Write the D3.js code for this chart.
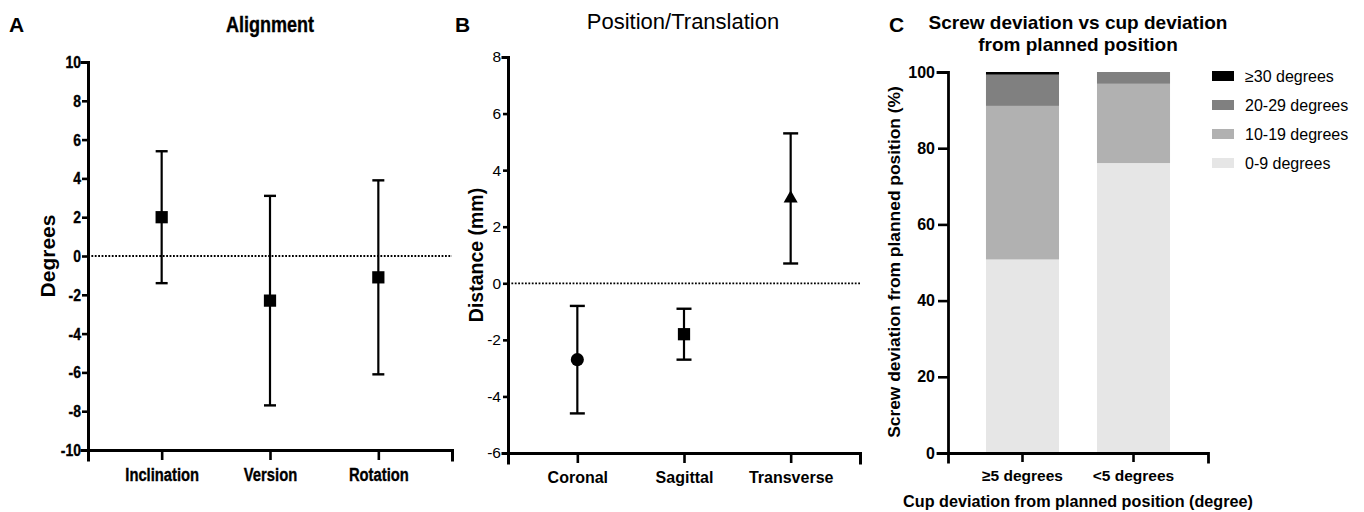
<!DOCTYPE html>
<html>
<head>
<meta charset="utf-8">
<script src="https://cdn.jsdelivr.net/npm/d3@7"></script>
<style>
	body { margin: 0; background: #fff; }
	svg { display: block; }
	.narrow { font-family: "Liberation Sans", Arial, sans-serif; font-weight: bold; stroke: #000; stroke-width: 0.35px; }
	.bold { font-family: "Liberation Sans", Arial, sans-serif; font-weight: bold; }
	.reg { font-family: "Liberation Sans", Arial, sans-serif; font-weight: normal; }
</style>
</head>
<body>
<svg id="chart" width="1364" height="512"></svg>
<script>
// panel A - alignment (mean and range, degrees)
const alignCats = ["Inclination", "Version", "Rotation"];
const alignMean = [2.0, -2.3, -1.1];
const alignLow = [-1.4, -7.7, -6.1];
const alignHigh = [5.4, 3.1, 3.9];
const alignTicks = [-10, -8, -6, -4, -2, 0, 2, 4, 6, 8, 10];

// panel B - position/translation (mm)
const posCats = ["Coronal", "Sagittal", "Transverse"];
const posMean = [-2.7, -1.8, 3.0];
const posLow = [-4.6, -2.7, 0.7];
const posHigh = [-0.8, -0.9, 5.3];
const posShapes = ["circle", "square", "triangle"];
const posTicks = [-6, -4, -2, 0, 2, 4, 6, 8];

// panel C - stacked percentages
const cupCats = ["≥5 degrees", "<5 degrees"];
const screwKeys = ["0-9 degrees", "10-19 degrees", "20-29 degrees", "≥30 degrees"];
const screw0to9 = [50.8, 76.1];
const screw10to19 = [40.3, 20.8];
const screw20to29 = [8.2, 3.1];
const screw30plus = [0.7, 0];
const screwColors = ["#e6e6e6", "#b1b1b1", "#808080", "#000000"];
const pctTicks = [0, 20, 40, 60, 80, 100];

const svg = d3.select('#chart');

const symbolType = {
	square: d3.symbolSquare,
	circle: d3.symbolCircle,
	triangle: d3.symbolTriangle
};

const drawErrorPanel = (o) => {
	const g = svg.append('g');
	const x = d3.scalePoint().domain(o.cats).range([o.left, o.right]).padding(o.pad);
	const y = d3.scaleLinear().domain(o.yDomain).range([o.bottom, o.top]);

	// dotted zero line
	g.append('line')
		.attr('x1', o.left).attr('x2', o.right)
		.attr('y1', y(0)).attr('y2', y(0))
		.attr('stroke', '#000').attr('stroke-width', 1.8)
		.attr('stroke-dasharray', '1.8,1.6');

	const yAxis = g.append('g')
		.attr('transform', `translate(${o.left},0)`)
		.call(d3.axisLeft(y).tickValues(o.ticks).tickFormat(d => String(d))
			.tickSizeOuter(0).tickSize(o.yTick).tickPadding(o.yPad));
	const xAxis = g.append('g')
		.attr('transform', `translate(0,${o.bottom})`)
		.call(d3.axisBottom(x).tickSizeOuter(0).tickSize(o.xTick).tickPadding(o.xPad));

	[yAxis, xAxis].forEach(a => {
		a.attr('font-size', null).attr('font-family', null);
		a.select('.domain').attr('stroke-width', 3).attr('stroke-linecap', 'square');
		a.selectAll('.tick line').attr('stroke-width', 2.6);
	});
	yAxis.selectAll('text').attr('class', o.yTickClass).style('font-size', o.yTickSize + 'px').attr('fill', '#000');
	xAxis.selectAll('text').attr('class', o.xTickClass).style('font-size', o.xTickSize + 'px').attr('fill', '#000');

	const pts = o.cats.map((c, i) => ({ c, m: o.mean[i], lo: o.low[i], hi: o.high[i], s: o.shapes[i] }));
	const bars = g.selectAll('.err').data(pts).join('g').attr('class', 'err');
	bars.append('line')
		.attr('x1', d => x(d.c)).attr('x2', d => x(d.c))
		.attr('y1', d => y(d.lo)).attr('y2', d => y(d.hi))
		.attr('stroke', '#000').attr('stroke-width', 2.2);
	['lo', 'hi'].forEach(k => {
		bars.append('line')
			.attr('x1', d => x(d.c) - o.capW / 2).attr('x2', d => x(d.c) + o.capW / 2)
			.attr('y1', d => y(d[k])).attr('y2', d => y(d[k]))
			.attr('stroke', '#000').attr('stroke-width', 2.4);
	});
	bars.append('path')
		.attr('transform', d => `translate(${x(d.c)},${y(d.m)})`)
		.attr('d', d => d3.symbol().type(symbolType[d.s]).size(o.symSize[d.s])())
		.attr('fill', '#000');
	return g;
};

// ---- A
drawErrorPanel({
	cats: alignCats, mean: alignMean, low: alignLow, high: alignHigh,
	shapes: ["square", "square", "square"],
	ticks: alignTicks, yDomain: [-10, 10],
	left: 88, right: 452, top: 62, bottom: 450, pad: 0.68,
	yTick: 6, yPad: 1, xTick: 10, xPad: 8,
	yTickClass: 'narrow', yTickSize: 17, xTickClass: 'narrow', xTickSize: 18,
	capW: 12, symSize: { square: 150 }
});
svg.append('text').attr('class', 'bold').attr('x', 9).attr('y', 32).style('font-size', '21px').text('A');
svg.append('text').attr('class', 'narrow').attr('x', 270).attr('y', 32)
	.attr('text-anchor', 'middle').style('font-size', '22px').text('Alignment');
svg.append('text').attr('class', 'bold').attr('transform', 'translate(55,256) rotate(-90)')
	.attr('text-anchor', 'middle').style('font-size', '21px').text('Degrees');

// ---- B
drawErrorPanel({
	cats: posCats, mean: posMean, low: posLow, high: posHigh, shapes: posShapes,
	ticks: posTicks, yDomain: [-6, 8],
	left: 508, right: 860, top: 57, bottom: 453, pad: 0.65,
	yTick: 5, yPad: 2, xTick: 10, xPad: 9,
	yTickClass: 'reg', yTickSize: 15.5, xTickClass: 'bold', xTickSize: 16,
	capW: 15, symSize: { circle: 135, square: 150, triangle: 85 }
});
svg.append('text').attr('class', 'bold').attr('x', 455).attr('y', 32).style('font-size', '21px').text('B');
svg.append('text').attr('class', 'reg').attr('x', 683).attr('y', 29)
	.attr('text-anchor', 'middle').style('font-size', '22px').text('Position/Translation');
svg.append('text').attr('class', 'bold').attr('transform', 'translate(483,255) rotate(-90)')
	.attr('text-anchor', 'middle').style('font-size', '19.5px').text('Distance (mm)');

// ---- C
const cg = svg.append('g');
const cx = d3.scaleBand().domain(cupCats).range([948, 1208]).paddingInner(0.342).paddingOuter(0.342);
const cy = d3.scaleLinear().domain([0, 100]).range([453, 72]);

const rows = cupCats.map((c, i) => ({
	cat: c,
	[screwKeys[0]]: screw0to9[i],
	[screwKeys[1]]: screw10to19[i],
	[screwKeys[2]]: screw20to29[i],
	[screwKeys[3]]: screw30plus[i]
}));
const series = d3.stack().keys(screwKeys)(rows);
const color = d3.scaleOrdinal().domain(screwKeys).range(screwColors);

cg.selectAll('.layer').data(series).join('g')
	.attr('class', 'layer')
	.attr('fill', d => color(d.key))
	.selectAll('rect').data(d => d).join('rect')
	.attr('x', d => cx(d.data.cat))
	.attr('width', cx.bandwidth())
	.attr('y', d => cy(d[1]))
	.attr('height', d => cy(d[0]) - cy(d[1]));

const cyAxis = cg.append('g').attr('transform', 'translate(948,0)')
	.call(d3.axisLeft(cy).tickValues(pctTicks).tickSizeOuter(0).tickSize(10).tickPadding(3));
const cxAxis = cg.append('g').attr('transform', 'translate(0,453)')
	.call(d3.axisBottom(cx).tickSizeOuter(0).tickSize(9).tickPadding(8));
[cyAxis, cxAxis].forEach(a => {
	a.attr('font-size', null).attr('font-family', null);
	a.select('.domain').attr('stroke-width', 2.8).attr('stroke-linecap', 'square');
	a.selectAll('.tick line').attr('stroke-width', 2.6);
});
cyAxis.selectAll('text').attr('class', 'bold').style('font-size', '16px').attr('fill', '#000');
cxAxis.selectAll('text').attr('class', 'bold').style('font-size', '15.5px').attr('fill', '#000');

// legend, top entry first
const legendKeys = screwKeys.slice().reverse();
const ly = d3.scalePoint().domain(legendKeys).range([76, 163]);
const leg = cg.selectAll('.leg').data(legendKeys).join('g').attr('class', 'leg')
	.attr('transform', d => `translate(1212,${ly(d)})`);
leg.append('rect').attr('x', 0).attr('y', -5).attr('width', 22).attr('height', 10)
	.attr('fill', d => color(d));
leg.append('text').attr('class', 'reg').attr('x', 33).attr('y', 0).attr('dy', '0.35em')
	.style('font-size', '16px').text(d => d);

svg.append('text').attr('class', 'bold').attr('x', 889).attr('y', 32).style('font-size', '21px').text('C');
svg.append('text').attr('class', 'bold').attr('x', 1078).attr('y', 29)
	.attr('text-anchor', 'middle').style('font-size', '19px').text('Screw deviation vs cup deviation');
svg.append('text').attr('class', 'bold').attr('x', 1078).attr('y', 51)
	.attr('text-anchor', 'middle').style('font-size', '19px').text('from planned position');
svg.append('text').attr('class', 'bold').attr('transform', 'translate(900,262) rotate(-90)')
	.attr('text-anchor', 'middle').style('font-size', '17.4px').text('Screw deviation from planned position (%)');
svg.append('text').attr('class', 'bold').attr('x', 1078).attr('y', 507)
	.attr('text-anchor', 'middle').style('font-size', '16.2px').text('Cup deviation from planned position (degree)');

// panel A uses a condensed face; squeeze bold text horizontally
svg.selectAll('text.narrow').each(function () {
	const w = this.getComputedTextLength();
	d3.select(this).attr('textLength', w * 0.82).attr('lengthAdjust', 'spacingAndGlyphs');
});
</script>
</body>
</html>
